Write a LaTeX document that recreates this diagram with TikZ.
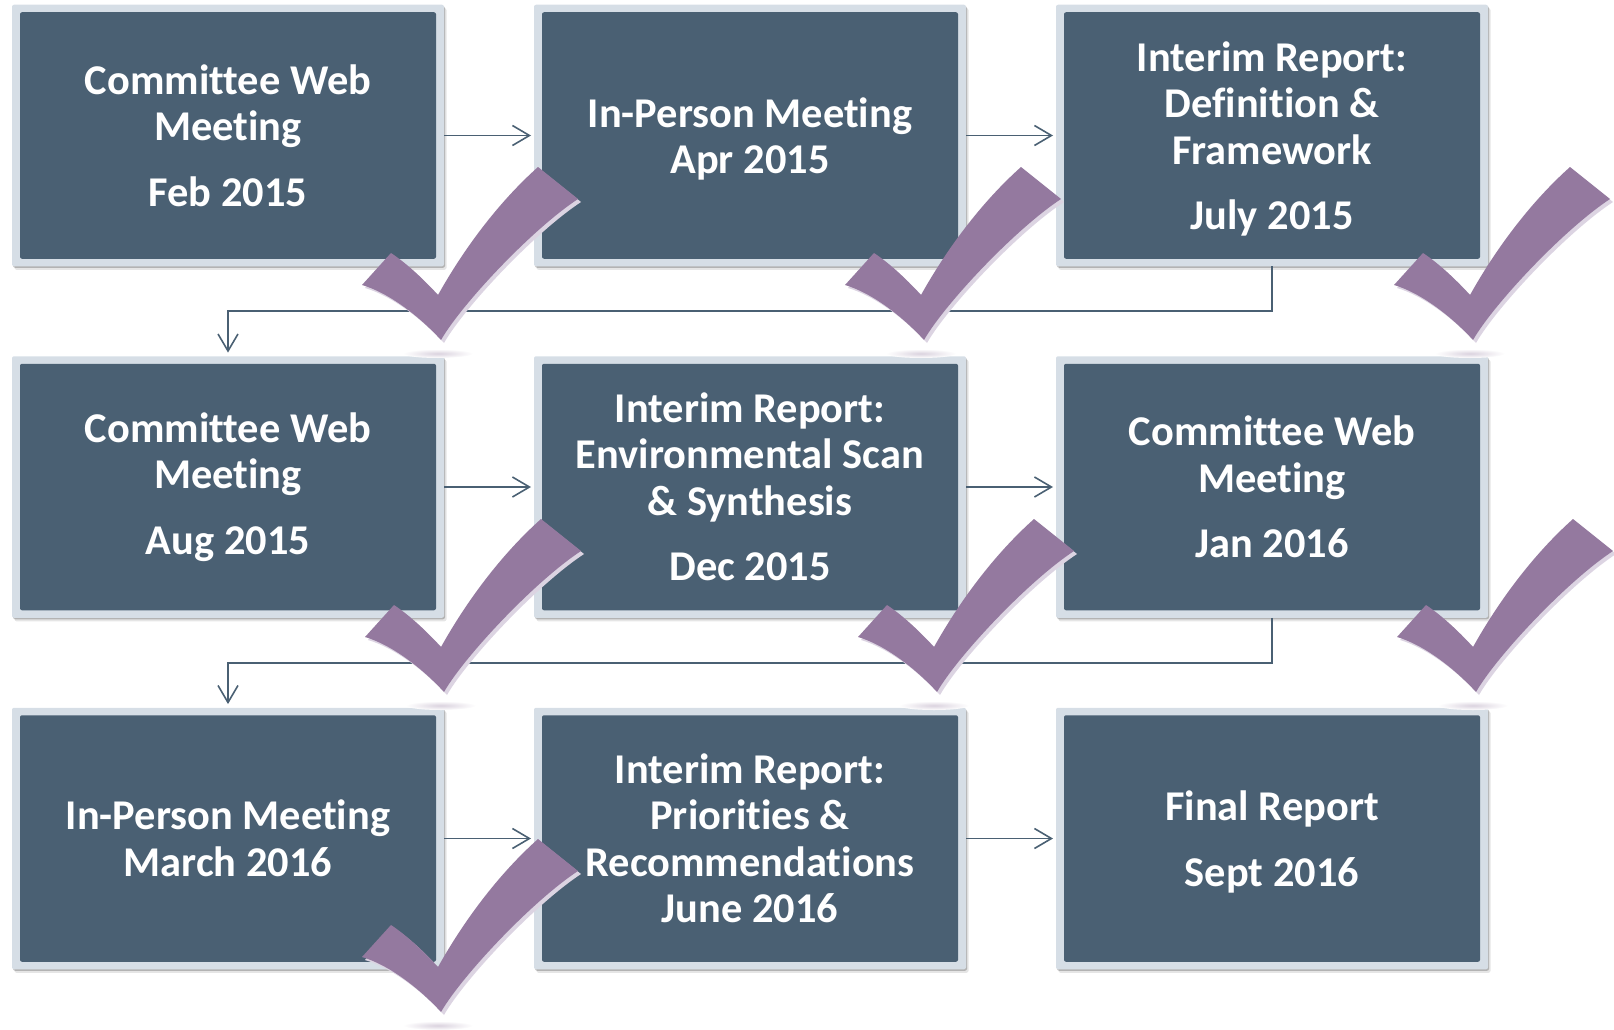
\documentclass[tikz,border=0pt]{standalone}
\usepackage{fontspec}
\setmainfont{Carlito}[Ligatures=NoCommon]
\usetikzlibrary{arrows.meta,shadows,calc}
\definecolor{boxdark}{RGB}{74,96,115}
\definecolor{boxlight}{RGB}{214,222,230}
\definecolor{conncol}{RGB}{74,96,115}
\definecolor{checkcol}{RGB}{148,121,159}
\definecolor{checkshade}{RGB}{220,212,226}
\definecolor{ellcol}{RGB}{218,210,222}
\newcommand{\nodepth}[1]{\raisebox{0pt}[\height][0pt]{#1}}
\begin{document}
\begin{tikzpicture}[x=1pt,y=-1pt,
  stagebox/.style={fill=boxlight, rounded corners=2pt, minimum width=432pt, minimum height=261.5pt,
    inner sep=0pt, outer sep=0pt, text=white, align=center,
    font=\fontsize{42.4}{46.5}\selectfont\bfseries,
    drop shadow={shadow xshift=1pt, shadow yshift=-1.5pt, opacity=0.22, fill=black},
    drop shadow={shadow xshift=2.5pt, shadow yshift=-3.5pt, opacity=0.10, fill=black},
    path picture={\fill[boxdark] ([shift={(8pt,-7.5pt)}]path picture bounding box.north west) rectangle ([shift={(-8pt,7.5pt)}]path picture bounding box.south east);}},
  conn/.style={draw=conncol, line width=1.6pt, -{Straight Barb[length=17pt,width=20pt,line width=1.6pt]}, shorten >=3pt},
  check/.pic={
    \shade[inner color=ellcol, outer color=white] (-3,13.5) ellipse (35 and 4.5);
    \begin{scope}[shift={(3,3)}]
      \fill[checkshade] (0,0) .. controls (-22,-24) and (-52,-47) .. (-79,-55) -- (-50,-87)
        .. controls (-32,-75) and (-15,-58) .. (-3,-45)
        .. controls (25,-95) and (60,-140) .. (97,-173) -- (137,-141)
        .. controls (90,-110) and (20,-35) .. (0,0) -- cycle;
    \end{scope}
    \fill[checkcol] (0,0) .. controls (-22,-24) and (-52,-47) .. (-79,-55) -- (-50,-87)
        .. controls (-32,-75) and (-15,-58) .. (-3,-45)
        .. controls (25,-95) and (60,-140) .. (97,-173) -- (137,-141)
        .. controls (90,-110) and (20,-35) .. (0,0) -- cycle;
  }]
\useasboundingbox (0,0) rectangle (1614,1030);

\node[stagebox] (b1) at (228,135.5) {Committee Web\\Meeting\\[19pt]Feb 2015};
\node[stagebox] (b2) at (750,135.5) {In-Person Meeting\\\nodepth{Apr 2015}};
\node[stagebox] (b3) at (1272,135.5) {Interim Report:\\Definition \&\\Framework\\[19pt]\nodepth{July 2015}};
\node[stagebox] (b4) at (228,487) {Committee Web\\Meeting\\[19pt]Aug 2015};
\node[stagebox] (b5) at (750,487) {Interim Report:\\Environmental Scan\\\& Synthesis\\[19pt]Dec 2015};
\node[stagebox] (b6) at (1272,487) {Committee Web\\Meeting\\[19pt]Jan 2016};
\node[stagebox] (b7) at (228,838.5) {In-Person Meeting\\March 2016};
\node[stagebox] (b8) at (750,838.5) {Interim Report:\\Priorities \&\\Recommendations\\June 2016};
\node[stagebox] (b9) at (1272,838.5) {Final Report\\[19pt]\nodepth{Sept 2016}};

\draw[conn] (b1) -- (b2);
\draw[conn] (b2) -- (b3);
\draw[conn] (b4) -- (b5);
\draw[conn] (b5) -- (b6);
\draw[conn] (b7) -- (b8);
\draw[conn] (b8) -- (b9);
\draw[conn, shorten >=3.7pt] (b3.south) -- ($(b3.south)!0.5!(b6.north)$) -| (b4.north);
\draw[conn, shorten >=3.7pt] (b6.south) -- ($(b6.south)!0.5!(b9.north)$) -| (b7.north);

\pic at (441,340) {check};
\pic at (924,340) {check};
\pic at (1473,340) {check};
\pic at (444,692) {check};
\pic at (937,692) {check};
\pic at (1476,692) {check};
\pic at (441,1012) {check};
\end{tikzpicture}
\end{document}
